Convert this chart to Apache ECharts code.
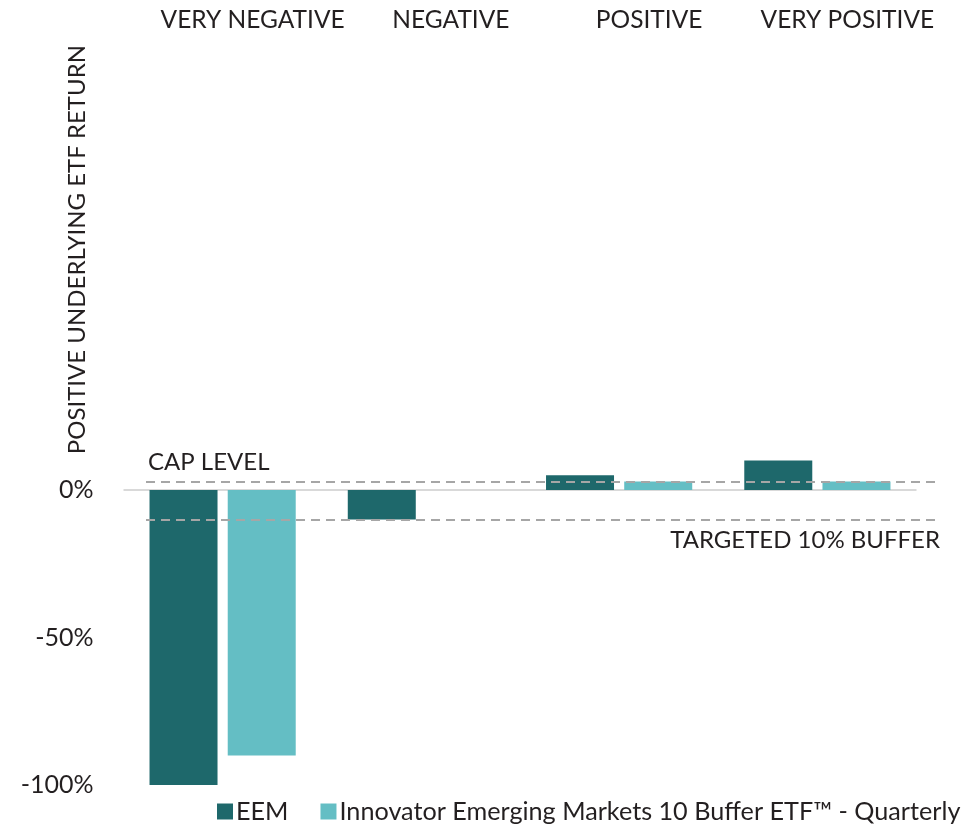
<!DOCTYPE html>
<html>
<head>
<meta charset="utf-8">
<script src="https://cdn.jsdelivr.net/npm/echarts@6/dist/echarts.min.js"></script>
<style>
html,body{margin:0;padding:0;background:#fff;}
#chart{width:973px;height:830px;}
</style>
</head>
<body>
<div id="chart"></div>
<script>
const categories = ['VERY NEGATIVE', 'NEGATIVE', 'POSITIVE', 'VERY POSITIVE'];
const seriesNames = ['EEM', 'Innovator Emerging Markets 10 Buffer ETF™ - Quarterly'];
const eemValues = [-100, -10, 5, 10];
const bufferValues = [-90, 0, 2.9, 2.9];
const capLevel = 2.9;
const bufferLevel = -10;
const yTickLabels = { '0': '0%', '-50': '-50%', '-100': '-100%' };
const yAxisTitle = 'POSITIVE UNDERLYING ETF RETURN';
const capLabel = 'CAP LEVEL';
const bufferLabel = 'TARGETED 10% BUFFER';

const FONT = 'Lato';
const TXT = '#231f20';
const chart = echarts.init(document.getElementById('chart'));
const yMin = -100, yMax = 150;

chart.setOption({
  animation: false,
  textStyle: { fontFamily: FONT, color: TXT },
  grid: [
    { left: 123.5, right: 56.5, top: 47.5, bottom: 45 },
    { left: 146, right: 33, top: 47.5, bottom: 45 }
  ],
  legend: {
    bottom: 1,
    left: 212,
    icon: 'rect',
    itemWidth: 16,
    itemHeight: 16,
    itemGap: 32,
    textStyle: { fontFamily: FONT, fontSize: 25.2, color: TXT, padding: [0, 0, 0, -2] },
    data: seriesNames
  },
  xAxis: [
    {
      type: 'category',
      gridIndex: 0,
      position: 'top',
      data: categories,
      axisLine: { show: false },
      axisTick: { show: false },
      axisLabel: {
        interval: 0,
        hideOverlap: false,
        fontFamily: FONT, fontSize: 24.5, color: TXT, margin: 15,
        padding: [0, 0, 0, 60]
      }
    },
    { type: 'value', gridIndex: 1, min: 0, max: 1, show: false }
  ],
  yAxis: [
    {
      type: 'value', gridIndex: 0, min: yMin, max: yMax, interval: 50,
      splitLine: { show: false },
      axisLine: { show: false },
      axisTick: { show: false },
      axisLabel: {
        fontFamily: FONT, fontSize: 25, color: TXT, margin: 30,
        formatter: v => (yTickLabels[String(v)] || '')
      }
    },
    { type: 'value', gridIndex: 1, min: yMin, max: yMax, show: false }
  ],
  graphic: [
    {
      type: 'text',
      left: 65,
      top: 45,
      rotation: Math.PI / 2,
      style: {
        text: yAxisTitle,
        fontFamily: FONT, fontSize: 24, fill: TXT
      }
    }
  ],
  series: [
    {
      name: seriesNames[0],
      type: 'bar',
      xAxisIndex: 0, yAxisIndex: 0,
      barWidth: 68,
      barGap: '15%',
      itemStyle: { color: '#1e686b' },
      data: eemValues,
      markLine: {
        silent: true,
        symbol: 'none',
        z: 1,
        label: { show: false },
        lineStyle: { color: '#d9d9d9', type: 'solid', width: 2 },
        data: [{ yAxis: 0 }]
      }
    },
    {
      name: seriesNames[1],
      type: 'bar',
      xAxisIndex: 0, yAxisIndex: 0,
      barWidth: 68,
      barGap: '15%',
      itemStyle: { color: '#64bec4' },
      data: bufferValues
    },
    {
      type: 'line',
      xAxisIndex: 1, yAxisIndex: 1,
      data: [[0, 0], [1, 0]],
      symbol: 'none',
      lineStyle: { opacity: 0 },
      silent: true,
      z: 10,
      markLine: {
        silent: true,
        symbol: 'none',
        lineStyle: { color: '#a6a6a6', type: [9, 6], width: 2 },
        data: [
          {
            yAxis: capLevel,
            label: {
              show: true, formatter: capLabel, position: 'insideStartTop',
              fontFamily: FONT, fontSize: 24, color: TXT, distance: [2, 7]
            }
          },
          {
            yAxis: bufferLevel,
            label: {
              show: true, formatter: bufferLabel, position: 'insideEndBottom',
              fontFamily: FONT, fontSize: 24, color: TXT, distance: [0, 9]
            }
          }
        ]
      }
    }
  ]
});
</script>
</body>
</html>
